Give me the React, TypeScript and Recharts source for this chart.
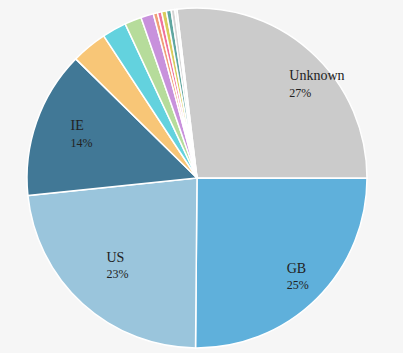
import React from "react";
import { PieChart, Pie, Cell } from "recharts";

const categories = ["Unknown", "GB", "US", "IE", "CA", "DE", "AU", "FR", "NL", "IN", "ES", "SE", "IT", "NZ"];
const shares = [26.9, 25.1, 23.2, 14.0, 3.4, 2.3, 1.6, 1.2, 0.4, 0.4, 0.45, 0.45, 0.35, 0.2];
const colors = [
  "#cbcbcb", "#5fb0db", "#9ac5dc", "#417896", "#f8c677", "#63d2de", "#b6dc9b",
  "#c891dc", "#f09f77", "#f0729c", "#dacc5c", "#5fa6a0", "#d4d4d4", "#ececec",
];

const data = categories.map((name, i) => ({ name, value: shares[i] }));

const RAD = Math.PI / 180;
const nudge: Record<string, [number, number]> = {
  Unknown: [2, 4],
  GB: [-6, -2],
  US: [1, -17],
  IE: [2, -3],
};

const renderLabel = (props: any) => {
  const { cx, cy, midAngle, outerRadius, percent, name } = props;
  if (percent < 0.1) return null;
  const r = outerRadius * 0.8;
  const [dx, dy] = nudge[name] || [0, 0];
  const x = cx + r * Math.cos(-midAngle * RAD) + dx;
  const y = cy + r * Math.sin(-midAngle * RAD) + dy;
  return (
    <g>
      <text x={x} y={y} fill="#222" fontSize={14} fontFamily="'Liberation Serif', serif" textAnchor="start">
        {name}
      </text>
      <text x={x} y={y + 16.5} fill="#222" fontSize={12} fontFamily="'Liberation Serif', serif" textAnchor="start">
        {Math.round(percent * 100)}%
      </text>
    </g>
  );
};

export default function App() {
  return (
    <div style={{ position: "fixed", left: 0, top: 0, width: 403, height: 353, background: "#f6f6f6" }}>
      <PieChart width={403} height={353} margin={{ top: 0, right: 0, bottom: 0, left: 0 }}>
        <Pie
          data={data}
          dataKey="value"
          nameKey="name"
          cx={197}
          cy={178}
          outerRadius={170}
          startAngle={96.8}
          endAngle={96.8 - 360}
          stroke="#ffffff"
          strokeWidth={1.5}
          label={renderLabel}
          labelLine={false}
          isAnimationActive={false}
        >
          {data.map((d, i) => (
            <Cell key={d.name} fill={colors[i]} />
          ))}
        </Pie>
      </PieChart>
    </div>
  );
}
